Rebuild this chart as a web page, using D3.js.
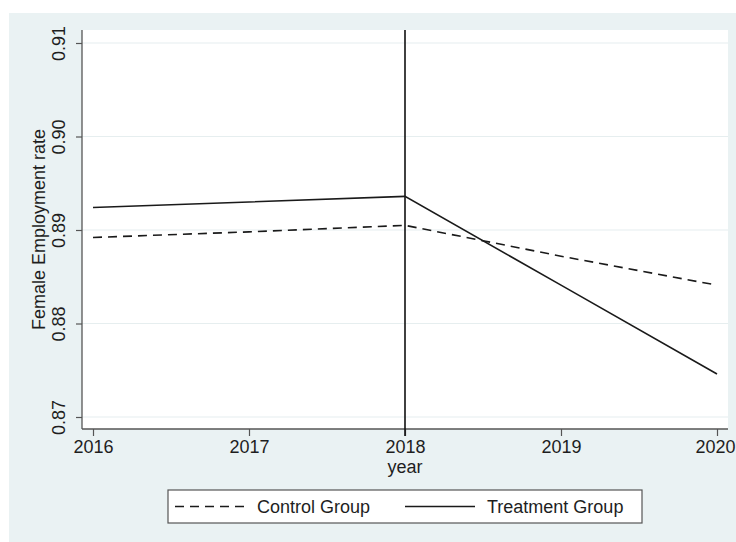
<!DOCTYPE html>
<html>
<head>
<meta charset="utf-8">
<script src="https://cdn.jsdelivr.net/npm/d3@7"></script>
<style>
  html, body { margin: 0; padding: 0; background: #ffffff; }
  svg { display: block; }
  text { font-family: "Liberation Sans", Arial, sans-serif; fill: #1e1e1e; }
</style>
</head>
<body>
<svg id="chart" width="736" height="542"></svg>
<script>
// Female employment rate by group, 2016–2020
const years = [2016, 2017, 2018, 2019, 2020];
const controlGroup = [0.8892, 0.8898, 0.8905, 0.8872, 0.8841];
const treatmentGroup = [0.8924, 0.8930, 0.8936, 0.8841, 0.8746];
const yTicks = [0.87, 0.88, 0.89, 0.90, 0.91];
const xTicks = [2016, 2017, 2018, 2019, 2020];
const policyYear = 2018;
const seriesNames = ["Control Group", "Treatment Group"];

const W = 736, H = 542;
const svg = d3.select("#chart");

// outer graph region
svg.append("rect").attr("x", 9).attr("y", 13).attr("width", W - 9).attr("height", H - 13)
  .attr("fill", "#eaf2f3");

// plot region
const plot = { left: 82, right: 728, top: 30, bottom: 429 };
svg.append("rect")
  .attr("x", plot.left).attr("y", plot.top)
  .attr("width", plot.right - plot.left).attr("height", plot.bottom - plot.top)
  .attr("fill", "#ffffff");

const x = d3.scaleLinear().domain([2016, 2020]).range([93, 717]);
const y = d3.scaleLinear().domain([0.87, 0.91]).range([417, 43]);

// horizontal grid
svg.append("g").selectAll("line").data(yTicks).join("line")
  .attr("x1", plot.left).attr("x2", plot.right)
  .attr("y1", d => y(d)).attr("y2", d => y(d))
  .attr("stroke", "#e6eeef").attr("stroke-width", 1.2);

// y axis
const yAxis = svg.append("g").attr("transform", `translate(${plot.left},0)`)
  .call(d3.axisLeft(y).tickValues(yTicks).tickFormat(d3.format(".2f")).tickSize(6).tickPadding(0));
yAxis.select(".domain").remove();
yAxis.selectAll(".tick line").attr("stroke", "#555").attr("stroke-width", 1.2);
yAxis.selectAll(".tick text")
  .attr("transform", "rotate(-90)")
  .attr("x", 0).attr("y", -17).attr("dy", "0")
  .attr("text-anchor", "middle")
  .style("font-size", "18px").style("fill", "#1e1e1e");

// x axis
const xAxis = svg.append("g").attr("transform", `translate(0,${plot.bottom})`)
  .call(d3.axisBottom(x).tickValues(xTicks).tickFormat(d3.format("d")).tickSize(7).tickPadding(4));
xAxis.select(".domain").remove();
xAxis.selectAll(".tick line").attr("stroke", "#555").attr("stroke-width", 1.2);
xAxis.selectAll(".tick text").style("font-size", "18px").style("fill", "#1e1e1e");
// keep the last year label inside the graph edge
xAxis.selectAll(".tick text").filter(d => d === 2020).attr("dx", "-2");

// axis lines
svg.append("line").attr("x1", plot.left).attr("x2", plot.left)
  .attr("y1", plot.top).attr("y2", plot.bottom)
  .attr("stroke", "#555").attr("stroke-width", 1.3);
svg.append("line").attr("x1", plot.left).attr("x2", plot.right)
  .attr("y1", plot.bottom).attr("y2", plot.bottom)
  .attr("stroke", "#555").attr("stroke-width", 1.3);

// axis titles
svg.append("text")
  .attr("transform", `translate(45,${(plot.top + plot.bottom) / 2}) rotate(-90)`)
  .attr("text-anchor", "middle")
  .style("font-size", "18px")
  .text("Female Employment rate");
svg.append("text")
  .attr("x", (plot.left + plot.right) / 2).attr("y", 473)
  .attr("text-anchor", "middle")
  .style("font-size", "18px")
  .text("year");

// policy year reference line
svg.append("line")
  .attr("x1", x(policyYear)).attr("x2", x(policyYear))
  .attr("y1", plot.top).attr("y2", plot.bottom + 7)
  .attr("stroke", "#111").attr("stroke-width", 1.6);

// series
const line = d3.line().x(d => x(d[0])).y(d => y(d[1]));
svg.append("path")
  .datum(years.map((yr, i) => [yr, controlGroup[i]]))
  .attr("d", line).attr("fill", "none")
  .attr("stroke", "#1a1a1a").attr("stroke-width", 1.6)
  .attr("stroke-dasharray", "9,6");
svg.append("path")
  .datum(years.map((yr, i) => [yr, treatmentGroup[i]]))
  .attr("d", line).attr("fill", "none")
  .attr("stroke", "#1a1a1a").attr("stroke-width", 1.6);

// legend
const lg = svg.append("g");
lg.append("rect").attr("x", 168).attr("y", 490).attr("width", 474).attr("height", 33)
  .attr("fill", "#ffffff").attr("stroke", "#555").attr("stroke-width", 1.2);
lg.append("line").attr("x1", 175).attr("x2", 247).attr("y1", 506.5).attr("y2", 506.5)
  .attr("stroke", "#1a1a1a").attr("stroke-width", 1.6).attr("stroke-dasharray", "9,6");
lg.append("text").attr("x", 257).attr("y", 513).style("font-size", "18px").text(seriesNames[0]);
lg.append("line").attr("x1", 405).attr("x2", 475).attr("y1", 506.5).attr("y2", 506.5)
  .attr("stroke", "#1a1a1a").attr("stroke-width", 1.6);
lg.append("text").attr("x", 487).attr("y", 513).style("font-size", "18px").text(seriesNames[1]);
</script>
</body>
</html>
